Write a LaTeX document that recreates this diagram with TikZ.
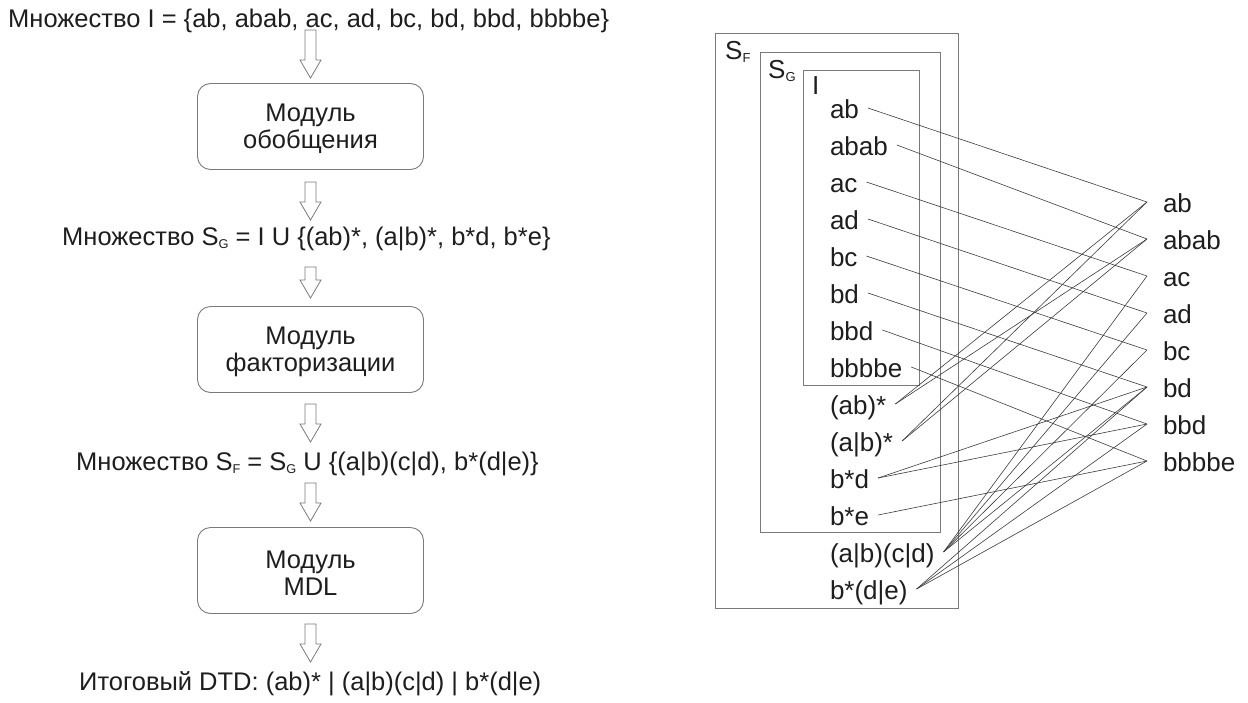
\documentclass[tikz,border=0pt]{standalone}
\usepackage{fontspec}
\setmainfont{Liberation Sans}
\usepackage{graphicx}
\usetikzlibrary{calc}
% small lowered index letter, as in S_G
\newcommand\lowsub[1]{\raisebox{-0.14em}{\scalebox{0.5}{#1}}}
\definecolor{ink}{HTML}{1E1E1E}
\definecolor{wire}{HTML}{3C3C3C}
\definecolor{frame}{HTML}{7A7A7A}
\begin{document}
\begin{tikzpicture}[x=1pt,y=-1pt,
  every node/.style={text=ink, font=\fontsize{25.5}{27}\selectfont},
  line/.style={anchor=base west, inner sep=0pt, text height=18pt, text depth=5pt},
  module/.style={draw=frame, line width=0.9pt, rounded corners=13pt,
    minimum width=226pt, minimum height=86pt, align=center, inner sep=0pt,
    font=\fontsize{25.5}{27}\selectfont},
  % hollow block arrow drawn between two points on one vertical
  flow/.style={draw=frame, line width=0.8pt, line join=miter,
    to path={let \p1=(\tikztostart), \p2=(\tikztotarget) in
      (\x1-5.5pt,\y1) -- (\x1+5.5pt,\y1) -- (\x1+5.5pt,\y2+18pt)
      -- (\x1+10.5pt,\y2+18pt) -- (\x1,\y2) -- (\x1-10.5pt,\y2+18pt)
      -- (\x1-5.5pt,\y2+18pt) -- cycle}},
  setbox/.style={draw=frame, line width=0.9pt, inner sep=0pt},
  setname/.style={anchor=base west, inner sep=0pt, font=\fontsize{26}{27}\selectfont},
  item/.style={anchor=base west, inner sep=0pt, outer xsep=9pt,
    text height=20pt, text depth=0pt, font=\fontsize{26}{27}\selectfont},
  target/.style={anchor=base west, inner sep=0pt, outer xsep=16pt,
    text height=20pt, text depth=0pt, font=\fontsize{26}{27}\selectfont},
  match/.style={draw=wire, line width=0.6pt},
]
\useasboundingbox (0,0) rectangle (1248,702);

% ---------- processing pipeline ----------
\node[line] (setI) at (8,27) {Множество I = \{ab, abab, ac, ad, bc, bd, bbd, bbbbe\}};
\node[module] (gen) at (310.5,126.5) {\rule{0pt}{23pt}Модуль\\обобщения};
\node[line] (setG) at (62,245) {Множество S\lowsub{G} = I U \{(ab)*, (a|b)*, b*d, b*e\}};
\node[module] (fact) at (310.5,349.5) {\rule{0pt}{23pt}Модуль\\факторизации};
\node[line] (setF) at (76,470) {Множество S\lowsub{F} = S\lowsub{G} U \{(a|b)(c|d), b*(d|e)\}};
\node[module] (mdl) at (310.5,570.5) {\rule{0pt}{23pt}Модуль\\MDL};
\node[line] (dtd) at (79,690) {Итоговый DTD: (ab)* | (a|b)(c|d) | b*(d|e)};

\draw[flow] ($(setI.base -| gen.north)+(0,3)$) to ($(gen.north)+(0,-5)$);
\draw[flow] ($(gen.south)+(0,12)$) to ($(setG.base -| gen.south)+(0,-25)$);
\draw[flow] ($(setG.base -| fact.north)+(0,22)$) to ($(fact.north)+(0,-8)$);
\draw[flow] ($(fact.south)+(0,11)$) to ($(setF.base -| fact.south)+(0,-28)$);
\draw[flow] ($(setF.base -| mdl.north)+(0,13)$) to ($(mdl.north)+(0,-6)$);
\draw[flow] ($(mdl.south)+(0,10)$) to ($(dtd.base -| mdl.south)+(0,-28)$);

% ---------- nested sets ----------
\node[setbox, minimum width=243pt, minimum height=575pt] (SF) at (836.5,320.5) {};
\node[setbox, minimum width=180pt, minimum height=480pt] (SG) at (850,292) {};
\node[setbox, minimum width=116pt, minimum height=315pt] (SI) at (861,227.5) {};
\node[setname] (lF) at (725,59) {S\lowsub{F}};
\node[setname] (lG) at (768,78) {S\lowsub{G}};
\node[setname] (lI) at (812,94) {I};

% expressions in the sets
\foreach \n/\t [count=\i from 0] in {
  i1/ab, i2/abab, i3/ac, i4/ad, i5/bc, i6/bd, i7/bbd, i8/bbbbe,
  g1/(ab)*, g2/(a|b)*, g3/b*d, g4/b*e, f1/(a|b)(c|d), f2/b*(d|e)}
  \node[item] (\n) at (821,118+37*\i) {\t};

% strings of the document
\foreach \n/\t [count=\i from 0] in {
  s1/ab, s2/abab, s3/ac, s4/ad, s5/bc, s6/bd, s7/bbd, s8/bbbbe}
  \node[target] (\n) at (1147,212+37*\i) {\t};

% which expression covers which string
\foreach \a/\b in {i1/s1, i2/s2, i3/s3, i4/s4, i5/s5, i6/s6, i7/s7, i8/s8,
  g1/s1, g1/s2, g2/s1, g2/s2, g3/s6, g3/s7, g4/s8,
  f1/s3, f1/s4, f1/s5, f1/s6, f2/s6, f2/s7, f2/s8}
  \draw[match] (\a.east) -- (\b.west);
\end{tikzpicture}
\end{document}
